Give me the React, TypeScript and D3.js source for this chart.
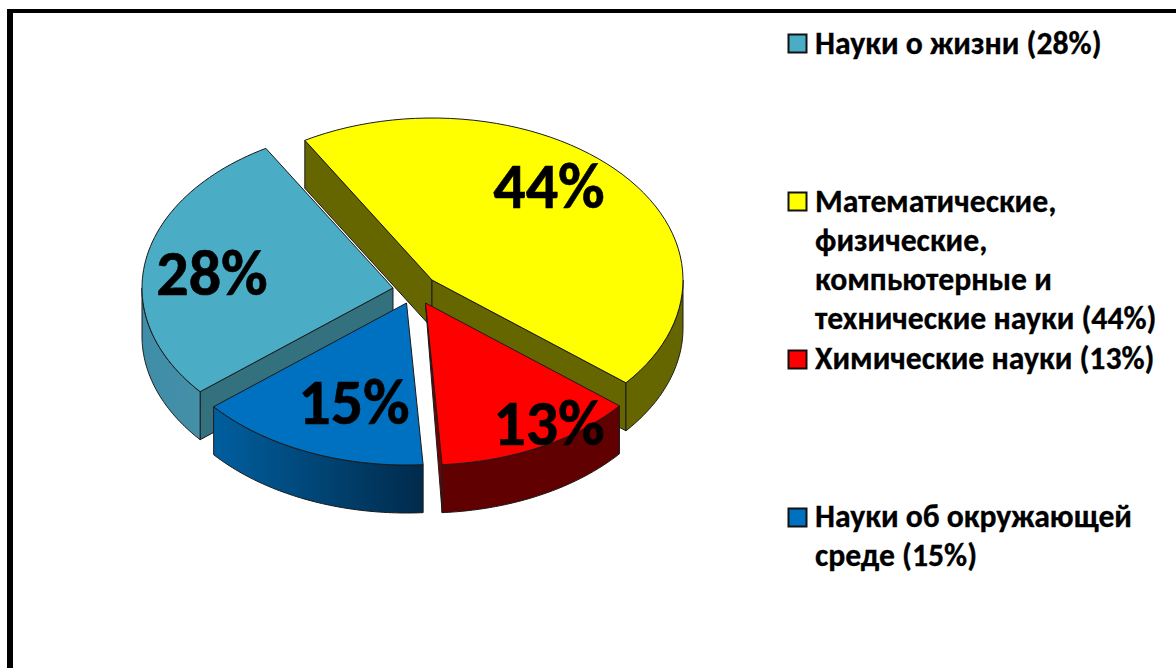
import React from 'react';
import * as d3 from 'd3';

const categories = ['Науки о жизни', 'Математические, физические, компьютерные и технические науки', 'Химические науки', 'Науки об окружающей среде'];
const values = [27.6, 44.4, 13, 15];
const percentLabels = ['28%', '44%', '13%', '15%'];
const topColors = ['#4bacc6', '#ffff00', '#ff0000', '#0070c0'];
const legendLines = [
  ['Науки о жизни (28%)'],
  ['Математические,', 'физические,', 'компьютерные и', 'технические науки (44%)'],
  ['Химические науки (13%)'],
  ['Науки об окружающей', 'среде (15%)'],
];

const W = 1176, H = 668;
const RX = 251, RY = 162, DEPTH = 48;
const apex = [[393, 288], [432, 280], [425.5, 303], [406.5, 303]];
const labelPos = [[212, 295], [549, 208], [549, 445], [354, 424]];
const swatchY = [34, 192, 350, 508];
const legendBase = [[54], [212, 251, 290, 329], [369], [527, 566]];
const drawOrder = [1, 0, 3, 2];
const FONT = "Carlito, Calibri, Lato, 'Open Sans', sans-serif";

const pie = d3.pie<number>().sort(null).startAngle((230.2 / 180) * Math.PI).endAngle((230.2 / 180) * Math.PI + 2 * Math.PI);
const arcs = pie(values);

const pt = (i: number, t: number, dz = 0): [number, number] => [apex[i][0] + RX * Math.sin(t), apex[i][1] - RY * Math.cos(t) + dz];
const line = d3.line<[number, number]>();
const sample = (a: number, b: number) => d3.range(61).map((k) => a + ((b - a) * k) / 60);

function topPath(i: number) {
  const { startAngle: a, endAngle: b } = arcs[i];
  return line([[apex[i][0], apex[i][1]], ...sample(a, b).map((t) => pt(i, t))]) + 'Z';
}
function outerWall(i: number) {
  const { startAngle: a, endAngle: b } = arcs[i];
  const pi = Math.PI;
  // visible part of the rim: the front half of the ellipse, in either turn
  const shift = a > 1.5 * pi ? 2 * pi : 0;
  const lo = Math.max(a - shift, pi / 2), hi = Math.min(b - shift, 1.5 * pi);
  if (lo >= hi) return null;
  const s = sample(lo, hi);
  return line([...s.map((t) => pt(i, t)), ...s.slice().reverse().map((t) => pt(i, t, DEPTH))]) + 'Z';
}
function radialWall(i: number, t: number) {
  const [ax, ay] = apex[i];
  return line([[ax, ay], pt(i, t), pt(i, t, DEPTH), [ax, ay + DEPTH]]) + 'Z';
}
function sliverWall(i: number, t: number) {
  const [ax, ay] = apex[i];
  return line([[ax, ay], pt(i, t), pt(i, t, DEPTH), [ax + 1, ay + 14]]) + 'Z';
}

const wallFill = ['url(#tealWall)', '#666600', '#600000', 'url(#blueWall)'];
const radialFill = ['#34717f', '#666600', '#7a0000', '#005a96'];
const edge = { stroke: '#1a1a1a', strokeWidth: 1, strokeLinejoin: 'round' as const };

export default function App() {
  return (
    <svg width={W} height={H} viewBox={`0 0 ${W} ${H}`} style={{ position: 'absolute', left: 0, top: 0, background: '#fff' }} aria-label={categories.join(', ')}>
      <defs>
        <linearGradient id="tealWall" gradientUnits="userSpaceOnUse" x1={141} x2={200} y1={0} y2={0}>
          <stop offset="0" stopColor="#3f8da8" />
          <stop offset="1" stopColor="#458fa8" />
        </linearGradient>
        <linearGradient id="blueWall" gradientUnits="userSpaceOnUse" x1={213} x2={424} y1={0} y2={0}>
          <stop offset="0" stopColor="#005f9f" />
          <stop offset="1" stopColor="#012a4b" />
        </linearGradient>
      </defs>
      <rect x={7} y={9} width={W} height={4} fill="#000" />
      <rect x={7} y={9} width={6} height={H} fill="#000" />
      {drawOrder.map((i) => {
        const wall = outerWall(i);
        return (
          <g key={i}>
            {i === 1 && <path d={radialWall(i, arcs[i].startAngle)} fill={radialFill[i]} {...edge} />}
            {i === 1 && <path d={radialWall(i, arcs[i].endAngle)} fill={radialFill[i]} {...edge} />}
            {i === 0 && <path d={radialWall(i, arcs[i].startAngle)} fill={radialFill[i]} {...edge} />}
            {i === 2 && <path d={sliverWall(i, arcs[i].endAngle)} fill={radialFill[i]} {...edge} />}
            {wall && <path d={wall} fill={wallFill[i]} {...edge} />}
            <path d={topPath(i)} fill={topColors[i]} {...edge} />
          </g>
        );
      })}
      {percentLabels.map((s, i) => (
        <text key={s} x={labelPos[i][0]} y={labelPos[i][1]} textAnchor="middle" fontFamily={FONT} fontWeight={700} fontSize={64} fill="#000" stroke="#000" strokeWidth={0.6}>
          {s}
        </text>
      ))}
      {legendLines.map((lines, i) => (
        <g key={i}>
          <rect x={788.5} y={swatchY[i] + 0.5} width={18} height={18} fill={topColors[i]} stroke="#111" strokeWidth={2} />
          {lines.map((l, j) => (
            <text key={l} x={815} y={legendBase[i][j]} fontFamily={FONT} fontWeight={700} fontSize={31.7} fill="#000" stroke="#000" strokeWidth={0.3}>
              {l}
            </text>
          ))}
        </g>
      ))}
    </svg>
  );
}
